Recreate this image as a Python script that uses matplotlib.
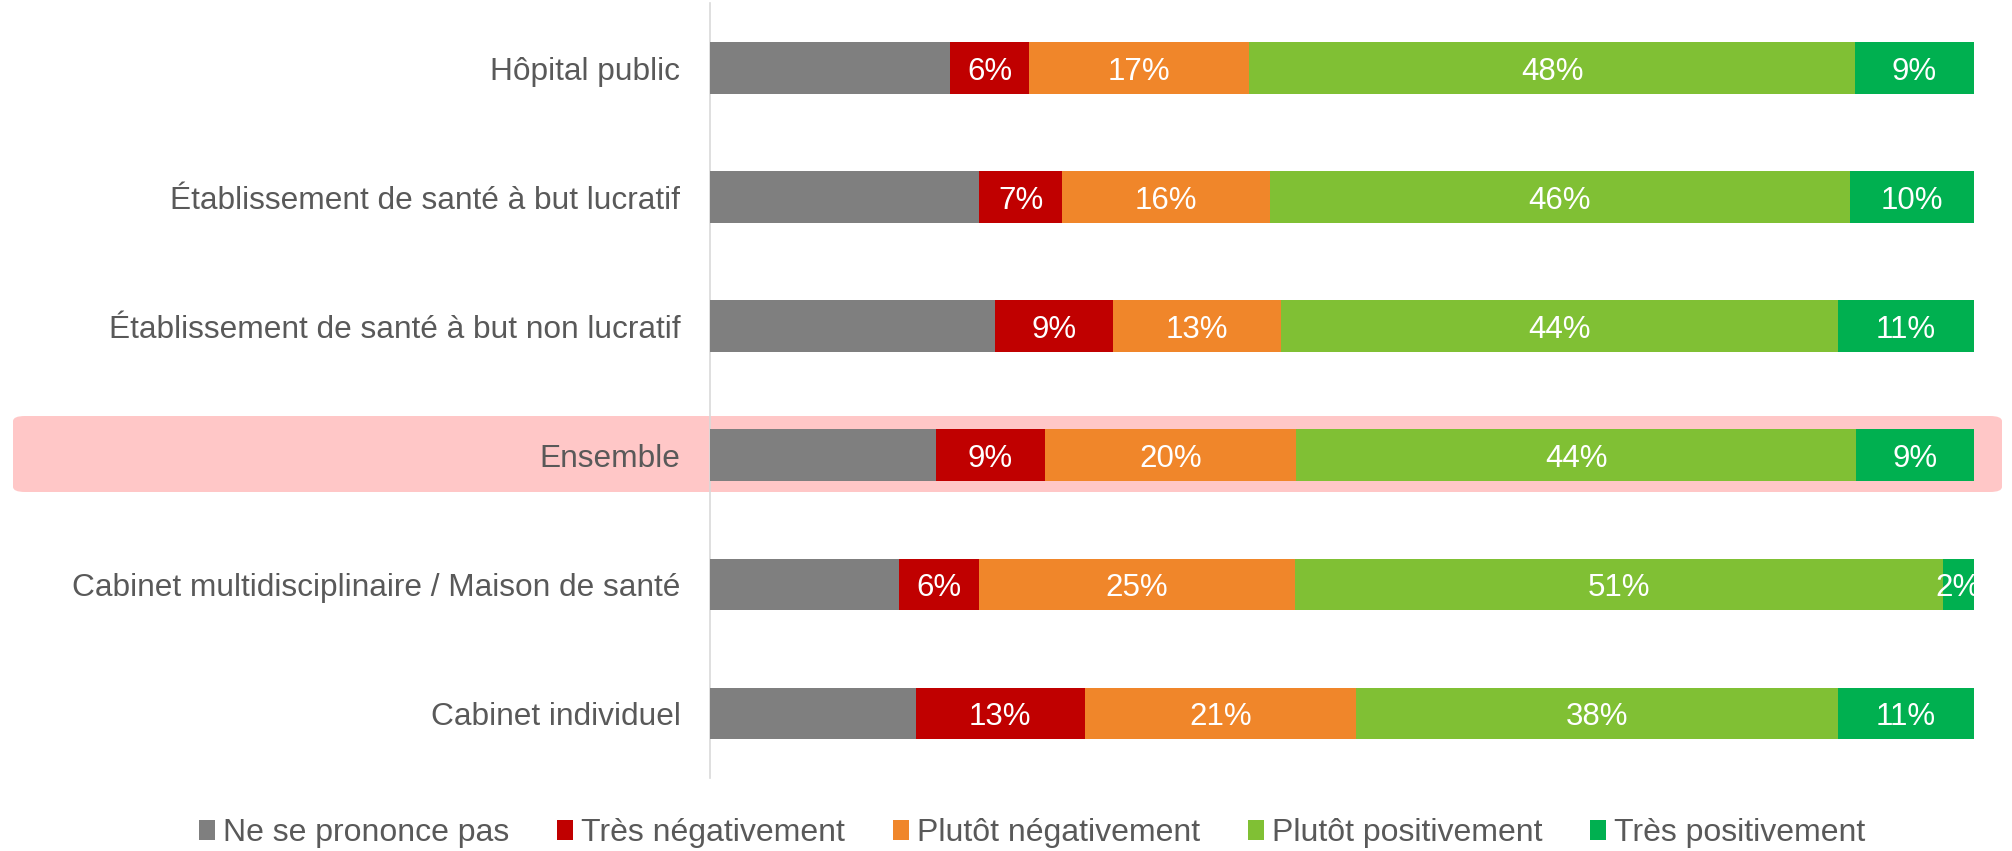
import matplotlib
matplotlib.use("Agg")
import matplotlib.pyplot as plt
from matplotlib.patches import FancyBboxPatch
import numpy as np

plt.rcParams['font.family'] = ['Liberation Sans', 'DejaVu Sans']

categories = [
    "Hôpital public",
    "Établissement de santé à but lucratif",
    "Établissement de santé à but non lucratif",
    "Ensemble",
    "Cabinet multidisciplinaire / Maison de santé",
    "Cabinet individuel",
]
series_names = ["Ne se prononce pas", "Très négativement", "Plutôt négativement",
                "Plutôt positivement", "Très positivement"]
ne_se_prononce = [19.0, 21.3, 22.6, 17.9, 15.0, 16.3]
tres_negatif = [6.3, 6.6, 9.3, 8.6, 6.3, 13.4]
plutot_negatif = [17.4, 16.4, 13.3, 19.9, 25.0, 21.4]
plutot_positif = [47.9, 45.9, 44.1, 44.3, 51.3, 38.2]
tres_positif = [9.4, 9.8, 10.7, 9.3, 2.4, 10.7]
colors = ["#7F7F7F", "#C00000", "#F0862A", "#80C034", "#00B050"]
show_label = [False, True, True, True, True]

series = [ne_se_prononce, tres_negatif, plutot_negatif, plutot_positif, tres_positif]

fig = plt.figure(figsize=(20.12, 8.51), dpi=100)
ax = fig.add_axes([0.3527, 0.0858, 0.6282, 0.9101])
ax.patch.set_alpha(0)

# highlight row "Ensemble"
box = FancyBboxPatch((13 / 2012, 1 - 492 / 851), (2002 - 13) / 2012, 76 / 851,
                     boxstyle="round,pad=0,rounding_size=0.006",
                     transform=fig.transFigure, facecolor="#FFC7C7",
                     edgecolor="none", zorder=-1)
fig.patches.append(box)

y = np.arange(len(categories))
left = np.zeros(len(categories))
for vals, name, col, lab in zip(series, series_names, colors, show_label):
    vals = np.array(vals)
    ax.barh(y, vals, left=left, height=0.4, color=col, label=name, zorder=3)
    if lab:
        for yi, l, v in zip(y, left, vals):
            ax.text(l + v / 2, yi, f"{round(v)}%", ha="center", va="center_baseline",
                    color="white", fontsize=22.5, zorder=4, clip_on=True)
    left += vals

ax.set_xlim(0, 100)
ax.set_ylim(len(categories) - 0.5, -0.5)
ax.set_yticks(y)
ax.set_yticklabels(categories, fontsize=22.8, color="#595959")
ax.tick_params(axis="y", length=0, pad=21)
ax.set_xticks([])
for s in ["top", "right", "bottom"]:
    ax.spines[s].set_visible(False)
ax.spines["left"].set_color("#D9D9D9")
ax.spines["left"].set_linewidth(1.2)

handles, labels = ax.get_legend_handles_labels()
leg = fig.legend(handles, labels, loc="center", bbox_to_anchor=(0.513, 0.021),
                 ncol=5, frameon=False, fontsize=23, handlelength=0.5,
                 handleheight=0.6, handletextpad=0.25, columnspacing=1.5,
                 labelcolor="#595959")

fig.savefig("out.png", dpi=100)
